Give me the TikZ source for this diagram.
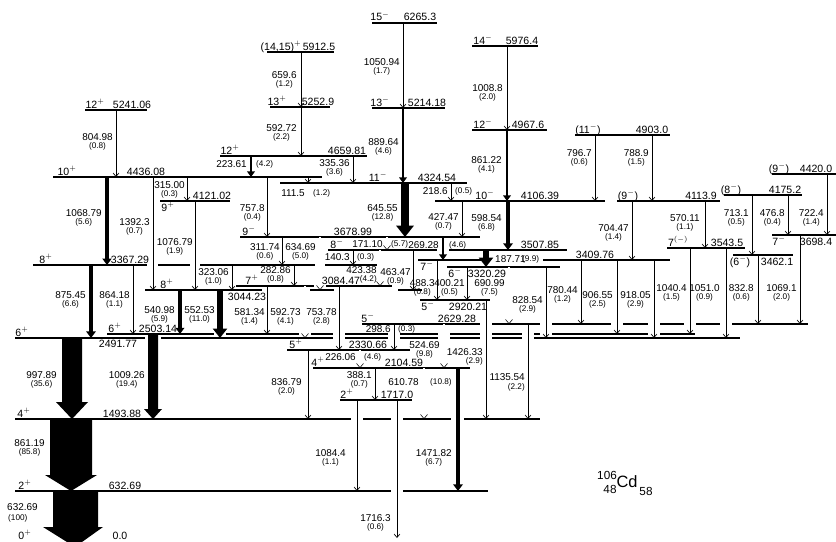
\documentclass[tikz,border=0pt]{standalone}
\usepackage{fontspec}
\setmainfont{Liberation Sans}
\usetikzlibrary{arrows.meta,positioning}

\begin{document}
\begin{tikzpicture}[x=.3mm,y=-.3mm,
  lev/.style={line width=.9pt},
  tr/.style={line width=.55pt,-{Straight Barb[length=3pt,width=5pt]}},
  fat/.style={line width=#1,-{Triangle[length=2pt 1.1,width=2pt 1.8]}},
  opn/.style={line width=.45pt,double distance=1.3pt,-{Straight Barb[length=3.5pt,width=6pt]}},
  lab/.style={font=\fontsize{9}{10}\selectfont,inner sep=0pt},
  gam/.style={font=\fontsize{8.5}{9}\selectfont,inner sep=0pt},
  ity/.style={font=\fontsize{7}{8}\selectfont,inner sep=0pt}]
\path[use as bounding box] (0,0) rectangle (836,541);

% levels
\draw[lev] (85,110)--(147,110);
\draw[lev] (53,177)--(322,177);
\draw[lev] (267,52)--(334,52);
\draw[lev] (270,107)--(330,107);
\draw[lev] (220,156)--(367,156);
\draw[lev] (372,23)--(437,23);
\draw[lev] (372,108)--(445,108);
\draw[lev] (280,183)--(467,183);
\draw[lev] (472,46)--(538,46);
\draw[lev] (472,130)--(547,130);
\draw[lev] (575,135)--(670,135);
\draw[lev] (435,201)--(605,201);
\draw[lev] (617,201)--(720,201);
\draw[lev] (724,195)--(802,195);
\draw[lev] (772,174)--(840,174);
\draw[lev] (160,201)--(230,201);
\draw[lev] (240,237)--(480,237);
\draw[lev] (328,250)--(437,250) (449,250)--(567,250);
\draw[lev] (418,260)--(481,260) (543,260)--(670,260);
\draw[lev] (447,267)--(560,267);
\draw[lev] (420,300)--(490,300);
\draw[lev] (362,324)--(480,324) (492,324)--(540,324) (552,324)--(611,324) (623,324)--(648,324) (660,324)--(684,324) (696,324)--(720,324) (732,324)--(808,324);
\draw[lev] (667,248)--(745,248);
\draw[lev] (733,255)--(793,255);
\draw[lev] (772,235)--(840,235);
\draw[lev] (33,265)--(147,265) (158,265)--(190,265) (200,265)--(315,265) (325,265)--(377,265);
\draw[lev] (145,290)--(262,290) (310,290)--(334,290) (398,290)--(422,290);
\draw[lev] (236,286)--(314,286) (326,286)--(392,286);
\draw[lev] (107,334)--(214,334) (226,334)--(299,334) (311,334)--(333,334) (345,334)--(388,334) (400,334)--(438,334) (450,334)--(480,334) (492,334)--(522,334) (534,334)--(540,334) (552,334)--(648,334) (660,334)--(695,334);
\draw[lev] (15,338)--(145,338) (161,338)--(333,338) (345,338)--(388,338) (400,338)--(438,338) (450,338)--(480,338) (492,338)--(522,338) (534,338)--(740,338);
\draw[lev] (287,350)--(410,350);
\draw[lev] (313,368)--(470,368);
\draw[lev] (340,400)--(412,400);
\draw[lev] (15,419)--(351,419) (363,419)--(391,419) (403,419)--(451,419) (464,419)--(540,419);
\draw[lev] (15,491)--(391,491) (403,491)--(488,491);

% level labels
\node[lab,anchor=base] (s5241) at (95,108) {12$^+$};
\node[lab,anchor=base] (l5241) at (132,108) {5241.06};
\node[lab,anchor=base] (s4436) at (67,175) {10$^+$};
\node[lab,anchor=base] (l4436) at (146,175) {4436.08};
\node[lab,anchor=base] (s5912) at (281,50) {(14,15)$^+$};
\node[lab,anchor=base] (l5912) at (319,50) {5912.5};
\node[lab,anchor=base] (s5252) at (277,105) {13$^+$};
\node[lab,anchor=base] (l5252) at (318,105) {5252.9};
\node[lab,anchor=base] (s4659) at (230,154) {12$^+$};
\node[lab,anchor=base] (l4659) at (347,154) {4659.81};
\node[lab,anchor=base] (s6265) at (380,21) {15$^-$};
\node[lab,anchor=base] (l6265) at (420,21) {6265.3};
\node[lab,anchor=base] (s5214) at (380,106) {13$^-$};
\node[lab,anchor=base] (l5214) at (427,106) {5214.18};
\node[lab,anchor=base] (s4324) at (378,181) {11$^-$};
\node[lab,anchor=base] (l4324) at (437,181) {4324.54};
\node[lab,anchor=base] (s5976) at (483,44) {14$^-$};
\node[lab,anchor=base] (l5976) at (522,44) {5976.4};
\node[lab,anchor=base] (s4967) at (483,128) {12$^-$};
\node[lab,anchor=base] (l4967) at (528,128) {4967.6};
\node[lab,anchor=base] (s4903) at (588,133) {(11$^-$)};
\node[lab,anchor=base] (l4903) at (652,133) {4903.0};
\node[lab,anchor=base] (s4106) at (485,199) {10$^-$};
\node[lab,anchor=base] (l4106) at (540,199) {4106.39};
\node[lab,anchor=base] (s4113) at (628,199) {(9$^-$)};
\node[lab,anchor=base] (l4113) at (701,199) {4113.9};
\node[lab,anchor=base] (s4175) at (731,193) {(8$^-$)};
\node[lab,anchor=base] (l4175) at (785,193) {4175.2};
\node[lab,anchor=base] (s4420) at (779,172) {(9$^-$)};
\node[lab,anchor=base] (l4420) at (816,172) {4420.0};
\node[lab,anchor=base] (s4121) at (168,211) {9$^+$};
\node[lab,anchor=base] (l4121) at (212,199) {4121.02};
\node[lab,anchor=base] (s3678) at (249,235) {9$^-$};
\node[lab,anchor=base] (l3678) at (353,235) {3678.99};
\node[lab,anchor=base] (s3507) at (337,248) {8$^-$};
\node[lab,anchor=base] (l3507) at (540,248) {3507.85};
\node[lab,anchor=base] (s3409) at (427,270) {7$^-$};
\node[lab,anchor=base] (l3409) at (595,258) {3409.76};
\node[lab,anchor=base] (s3320) at (455,277) {6$^-$};
\node[lab,anchor=base] (l3320) at (487,277) {3320.29};
\node[lab,anchor=base] (s2920) at (428,310) {5$^-$};
\node[lab,anchor=base] (l2920) at (468,310) {2920.21};
\node[lab,anchor=base] (s2629) at (368,322) {5$^-$};
\node[lab,anchor=base] (l2629) at (457,322) {2629.28};
\node[lab,anchor=base] (s3543) at (678,246) {7$^{(-)}$};
\node[lab,anchor=base] (l3543) at (727,246) {3543.5};
\node[lab,anchor=base] (s3462) at (740,265) {(6$^-$)};
\node[lab,anchor=base] (l3462) at (777,265) {3462.1};
\node[lab,anchor=base] (s3698) at (779,245) {7$^-$};
\node[lab,anchor=base] (l3698) at (816,245) {3698.4};
\node[lab,anchor=base] (s3367) at (46,263) {8$^+$};
\node[lab,anchor=base] (l3367) at (130,263) {3367.29};
\node[lab,anchor=base] (s3044) at (167,288) {8$^+$};
\node[lab,anchor=base] (l3044) at (247,300) {3044.23};
\node[lab,anchor=base] (s3084) at (252,284) {7$^+$};
\node[lab,anchor=base] (l3084) at (341,284) {3084.47};
\node[lab,anchor=base] (s2503) at (115,332) {6$^+$};
\node[lab,anchor=base] (l2503) at (158,332) {2503.14};
\node[lab,anchor=base] (s2491) at (22,336) {6$^+$};
\node[lab,anchor=base] (l2491) at (118,347) {2491.77};
\node[lab,anchor=base] (s2330) at (296,348) {5$^+$};
\node[lab,anchor=base] (l2330) at (368,348) {2330.66};
\node[lab,anchor=base] (s2104) at (318,366) {4$^+$};
\node[lab,anchor=base] (l2104) at (404,366) {2104.59};
\node[lab,anchor=base] (s1717) at (347,398) {2$^+$};
\node[lab,anchor=base] (l1717) at (397,398) {1717.0};
\node[lab,anchor=base] (s1493) at (24,417) {4$^+$};
\node[lab,anchor=base] (l1493) at (122,417) {1493.88};
\node[lab,anchor=base] (s632) at (25,489) {2$^+$};
\node[lab,anchor=base] (l632) at (125,489) {632.69};
\node[lab,anchor=base] (s0) at (25,539) {0$^+$};
\node[lab,anchor=base] (l0) at (120,539) {0.0};

% strong E2 cascade
\fill (62,338)--(82,338)--(82,402)--(88,402)--(72,419)--(56,402)--(62,402)--cycle;
\fill (148,334)--(158,334)--(158,409)--(162,409)--(153,419)--(144,409)--(148,409)--cycle;
\fill (50,419)--(92,419)--(92,475)--(97,475)--(71,491)--(45,475)--(50,475)--cycle;
\fill (53,491)--(98,491)--(98,527)--(103,527)--(75,547)--(43,527)--(53,527)--cycle;
\node[gam,anchor=east] (g997) at (57,375) {997.89};
\node[ity,below=1.5pt of g997] (i997) {(35.6)};
\node[gam,anchor=east] (g1009) at (145,375) {1009.26};
\node[ity,below=1.5pt of g1009] (i1009) {(19.4)};
\node[gam,anchor=east] (g861b) at (45,443) {861.19};
\node[ity,below=1.5pt of g861b] (i861b) {(85.8)};
\node[gam,anchor=west] (g632) at (7,507) {632.69};
\node[ity,anchor=west] (i632) at (8,518) {(100)};

% transitions
\draw[tr] (116,110)--(116,177);
\node[gam,anchor=east] (g804) at (113,137) {804.98};
\node[ity,below=1.5pt of g804] (i804) {(0.8)};
\draw[tr] (301,52)--(301,107);
\node[gam,anchor=east] (g659) at (297,75) {659.6};
\node[ity,below=1.5pt of g659] (i659) {(1.2)};
\draw[tr] (301,107)--(301,156);
\node[gam,anchor=east] (g592a) at (297,128) {592.72};
\node[ity,below=1.5pt of g592a] (i592a) {(2.2)};
\draw[tr] (403,23)--(403,108);
\node[gam,anchor=east] (g1050) at (400,62) {1050.94};
\node[ity,below=1.5pt of g1050] (i1050) {(1.7)};
\draw[fat=2.5pt] (403,108)--(403,183);
\node[gam,anchor=east] (g889) at (399,142) {889.64};
\node[ity,below=1.5pt of g889] (i889) {(4.6)};
\draw[tr] (507,46)--(507,130);
\node[gam,anchor=east] (g1008) at (503,88) {1008.8};
\node[ity,below=1.5pt of g1008] (i1008) {(2.0)};
\draw[fat=2.5pt] (507,130)--(507,201);
\node[gam,anchor=east] (g861a) at (502,160) {861.22};
\node[ity,below=1.5pt of g861a] (i861a) {(4.1)};
\draw[fat=2.5pt] (251,156)--(251,177);
\node[gam,anchor=east] (g223) at (247,164) {223.61};
\node[ity,anchor=west] (i223) at (256,164) {(4.2)};
\draw[tr] (353,156)--(353,183);
\node[gam,anchor=east] (g335) at (350,163) {335.36};
\node[ity,below=1.5pt of g335] (i335) {(3.6)};
\draw[tr] (308,177)--(308,183);
\node[gam,anchor=east] (g111) at (305,193) {111.5};
\node[ity,anchor=west] (i111) at (313,193) {(1.2)};
\draw[fat=3.2pt] (107,177)--(107,265);
\node[gam,anchor=east] (g1068) at (102,213) {1068.79};
\node[ity,below=1.5pt of g1068] (i1068) {(5.6)};
\draw[tr] (153,177)--(153,290);
\node[gam,anchor=east] (g1392) at (150,222) {1392.3};
\node[ity,below=1.5pt of g1392] (i1392) {(0.7)};
\draw[tr] (187,177)--(187,201);
\node[gam,anchor=east] (g315) at (185,185) {315.00};
\node[ity,below=1.5pt of g315] (i315) {(0.3)};
\draw[tr] (195,201)--(195,290);
\node[gam,anchor=east] (g1076) at (193,242) {1076.79};
\node[ity,below=1.5pt of g1076] (i1076) {(1.9)};
\draw[tr] (267,177)--(267,237);
\node[gam,anchor=east] (g757) at (265,208) {757.8};
\node[ity,below=1.5pt of g757] (i757) {(0.4)};
\draw[fat=7pt] (405,183)--(405,237);
\node[gam,anchor=east] (g645) at (398,208) {645.55};
\node[ity,below=1.5pt of g645] (i645) {(12.8)};
\draw[tr] (451,183)--(451,201);
\node[gam,anchor=east] (g218) at (448,191) {218.6};
\node[ity,anchor=west] (i218) at (455,191) {(0.5)};
\draw[tr] (462,201)--(462,237);
\node[gam,anchor=east] (g427) at (459,217) {427.47};
\node[ity,below=1.5pt of g427] (i427) {(0.7)};
\draw[fat=3.4pt] (508,201)--(508,250);
\node[gam,anchor=east] (g598) at (502,218) {598.54};
\node[ity,below=1.5pt of g598] (i598) {(6.8)};
\draw[tr] (595,135)--(595,201);
\node[gam,anchor=east] (g796) at (592,153) {796.7};
\node[ity,below=1.5pt of g796] (i796) {(0.6)};
\draw[tr] (652,135)--(652,201);
\node[gam,anchor=east] (g788) at (649,153) {788.9};
\node[ity,below=1.5pt of g788] (i788) {(1.5)};
\draw[tr] (632,201)--(632,260);
\node[gam,anchor=east] (g704) at (629,228) {704.47};
\node[ity,below=1.5pt of g704] (i704) {(1.4)};
\draw[tr] (705,201)--(705,248);
\node[gam,anchor=east] (g570) at (700,218) {570.11};
\node[ity,below=1.5pt of g570] (i570) {(1.1)};
\draw[tr] (752,195)--(752,255);
\node[gam,anchor=east] (g713) at (749,213) {713.1};
\node[ity,below=1.5pt of g713] (i713) {(0.5)};
\draw[tr] (788,195)--(788,235);
\node[gam,anchor=east] (g476) at (785,213) {476.8};
\node[ity,below=1.5pt of g476] (i476) {(0.4)};
\draw[tr] (827,174)--(827,235);
\node[gam,anchor=east] (g722) at (824,213) {722.4};
\node[ity,below=1.5pt of g722] (i722) {(1.4)};
\draw[tr] (800,235)--(800,324);
\node[gam,anchor=east] (g1069) at (797,288) {1069.1};
\node[ity,below=1.5pt of g1069] (i1069) {(2.0)};
\draw[tr] (758,255)--(758,324);
\node[gam,anchor=east] (g832) at (754,288) {832.8};
\node[ity,below=1.5pt of g832] (i832) {(0.6)};
\draw[tr] (726,248)--(726,338);
\node[gam,anchor=east] (g1051) at (720,288) {1051.0};
\node[ity,below=1.5pt of g1051] (i1051) {(0.9)};
\draw[tr] (690,248)--(690,334);
\node[gam,anchor=east] (g1040) at (687,288) {1040.4};
\node[ity,below=1.5pt of g1040] (i1040) {(1.5)};
\draw[tr] (654,260)--(654,338);
\node[gam,anchor=east] (g918) at (651,295) {918.05};
\node[ity,below=1.5pt of g918] (i918) {(2.9)};
\draw[tr] (617,260)--(617,334);
\node[gam,anchor=east] (g906) at (613,295) {906.55};
\node[ity,below=1.5pt of g906] (i906) {(2.5)};
\draw[tr] (581,260)--(581,324);
\node[gam,anchor=east] (g780) at (578,290) {780.44};
\node[ity,below=1.5pt of g780] (i780) {(1.2)};
\draw[tr] (546,267)--(546,338);
\node[gam,anchor=east] (g828) at (543,300) {828.54};
\node[ity,below=1.5pt of g828] (i828) {(2.9)};
\draw[tr] (282,237)--(282,265);
\node[gam,anchor=east] (g311) at (280,247) {311.74};
\node[ity,below=1.5pt of g311] (i311) {(0.6)};
\draw[opn] (320,237)--(320,290);
\node[gam,anchor=east] (g634) at (316,247) {634.69};
\node[ity,below=1.5pt of g634] (i634) {(5.0)};
\draw[tr] (232,265)--(232,290);
\node[gam,anchor=east] (g323) at (229,272) {323.06};
\node[ity,below=1.5pt of g323] (i323) {(1.0)};
\draw[tr] (294,265)--(294,286);
\node[gam,anchor=east] (g282) at (291,270) {282.86};
\node[ity,below=1.5pt of g282] (i282) {(0.8)};
\draw[fat=3pt] (180,290)--(180,334);
\node[gam,anchor=east] (g540) at (175,310) {540.98};
\node[ity,below=1.5pt of g540] (i540) {(5.9)};
\draw[fat=5.5pt] (220,290)--(220,338);
\node[gam,anchor=east] (g552) at (215,310) {552.53};
\node[ity,below=1.5pt of g552] (i552) {(11.0)};
\draw[tr] (267,286)--(267,334);
\node[gam,anchor=east] (g581) at (265,312) {581.34};
\node[ity,below=1.5pt of g581] (i581) {(1.4)};
\draw[opn] (305,286)--(305,338);
\node[gam,anchor=east] (g592b) at (301,312) {592.73};
\node[ity,below=1.5pt of g592b] (i592b) {(4.1)};
\draw[tr] (339,286)--(339,350);
\node[gam,anchor=east] (g753) at (337,312) {753.78};
\node[ity,below=1.5pt of g753] (i753) {(2.8)};
\draw[fat=3.4pt] (91,265)--(91,338);
\node[gam,anchor=east] (g875) at (86,295) {875.45};
\node[ity,below=1.5pt of g875] (i875) {(6.6)};
\draw[tr] (133,265)--(133,334);
\node[gam,anchor=east] (g864) at (130,295) {864.18};
\node[ity,below=1.5pt of g864] (i864) {(1.1)};
\draw[opn] (387,237)--(387,250);
\node[gam,anchor=east] (g171) at (383,244) {171.10};
\node[ity,anchor=west] (i171) at (391,244) {(5.7)};
\draw[fat=2.5pt] (443,237)--(443,260);
\node[gam,anchor=east] (g269) at (439,245) {269.28};
\node[ity,anchor=west] (i269) at (449,245) {(4.6)};
\draw[tr] (353,250)--(353,265);
\node[gam,anchor=east] (g140) at (350,257) {140.3};
\node[ity,anchor=west] (i140) at (357,257) {(0.3)};
\draw[opn] (380,250)--(380,286);
\node[gam,anchor=east] (g423) at (377,270) {423.38};
\node[ity,anchor=north east] (i423) at ([yshift=-1.5pt]g423.south east) {(4.2)};
\draw[tr] (413,250)--(413,290);
\node[gam,anchor=east] (g463) at (411,272) {463.47};
\node[ity,below=1.5pt of g463] (i463) {(0.9)};
\draw[tr] (437,260)--(437,300);
\node[gam,anchor=east] (g488) at (435,283) {488.3};
\node[ity,below=1.5pt of g488] (i488) {(0.8)};
\draw[tr] (467,267)--(467,300);
\node[gam,anchor=east] (g400) at (465,283) {400.21};
\node[ity,below=1.5pt of g400] (i400) {(0.5)};
\draw[fat=5.5pt] (486,250)--(486,267);
\node[gam,anchor=west] (g187) at (495,259) {187.71};
\node[ity,anchor=west] (i187) at (522,259) {(9.9)};
\draw[opn] (509,267)--(509,324);
\node[gam,anchor=east] (g690) at (505,283) {690.99};
\node[ity,below=1.5pt of g690] (i690) {(7.5)};
\draw[opn] (444,324)--(444,368);
\node[gam,anchor=east] (g524) at (440,345) {524.69};
\node[ity,below=1.5pt of g524] (i524) {(9.8)};
\draw[tr] (486,300)--(486,419);
\node[gam,anchor=east] (g1426) at (483,352) {1426.33};
\node[ity,anchor=north east] (i1426) at ([yshift=-1.5pt]g1426.south east) {(2.9)};
\draw[tr] (528,324)--(528,419);
\node[gam,anchor=east] (g1135) at (525,377) {1135.54};
\node[ity,anchor=north east] (i1135) at ([yshift=-2.5pt]g1135.south east) {(2.2)};
\draw[tr] (394,324)--(394,350);
\node[gam,anchor=east] (g298) at (391,329) {298.6};
\node[ity,anchor=west] (i298) at (398,329) {(0.3)};
\draw[opn] (360,350)--(360,368);
\node[gam,anchor=east] (g226) at (356,357) {226.06};
\node[ity,anchor=west] (i226) at (364,357) {(4.6)};
\draw[opn] (424,368)--(424,419);
\node[gam,anchor=east] (g610) at (419,382) {610.78};
\node[ity,anchor=west] (i610) at (430,382) {(10.8)};
\draw[fat=3.4pt] (458,368)--(458,491);
\node[gam,anchor=east] (g1471) at (452,453) {1471.82};
\node[ity,below=1.5pt of g1471] (i1471) {(6.7)};
\draw[tr] (308,350)--(308,419);
\node[gam,anchor=east] (g836) at (302,382) {836.79};
\node[ity,below=1.5pt of g836] (i836) {(2.0)};
\draw[tr] (375,368)--(375,400);
\node[gam,anchor=east] (g388) at (372,375) {388.1};
\node[ity,below=1.5pt of g388] (i388) {(0.7)};
\draw[tr] (357,400)--(357,491);
\node[gam,anchor=east] (g1084) at (346,453) {1084.4};
\node[ity,below=1.5pt of g1084] (i1084) {(1.1)};
\draw[tr] (397,400)--(397,538);
\node[gam,anchor=east] (g1716) at (391,518) {1716.3};
\node[ity,below=1.5pt of g1716] (i1716) {(0.6)};

% nucleus
\node[font=\fontsize{10}{11}\selectfont,inner sep=0pt] (amass) at (607,475) {106};
\node[font=\fontsize{10}{11}\selectfont,inner sep=0pt] (zcharge) at (610,489) {48};
\node[font=\fontsize{14}{15}\selectfont,inner sep=0pt] (cd) at (627,482) {Cd};
\node[font=\fontsize{10}{11}\selectfont,inner sep=0pt] (nneut) at (646,491) {58};
\end{tikzpicture}
\end{document}
